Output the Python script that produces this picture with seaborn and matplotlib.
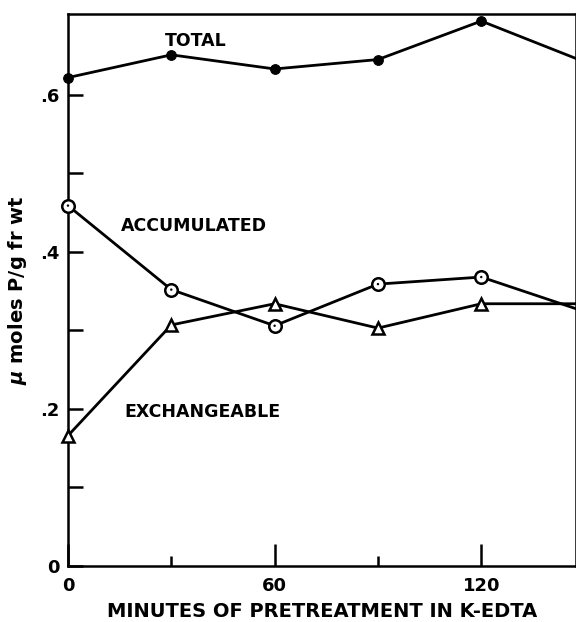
import numpy as np
import pandas as pd
import seaborn as sns
import matplotlib.pyplot as plt

# data
minutes = [0, 30, 60, 90, 120, 150]
total = [0.622, 0.651, 0.633, 0.645, 0.694, 0.642]
accumulated = [0.459, 0.352, 0.306, 0.359, 0.368, 0.324]
exchangeable = [0.166, 0.307, 0.334, 0.303, 0.334, 0.334]

xtick_major = [0, 60, 120]
xtick_minor = [30, 90]
ytick_major = [0, 0.2, 0.4, 0.6]
ytick_labels = ['0', '.2', '.4', '.6']
ytick_minor = [0.1, 0.3, 0.5]

sns.set_style('white')
plt.rcParams['font.family'] = ['DejaVu Sans']
plt.rcParams['font.weight'] = 'bold'
plt.rcParams['text.color'] = 'black'
plt.rcParams['axes.labelcolor'] = 'black'
plt.rcParams['xtick.color'] = 'black'
plt.rcParams['ytick.color'] = 'black'

fig = plt.figure(figsize=(5.76, 6.22), dpi=100)
ax = fig.add_axes([0.118, 0.090, 0.882, 0.8875])

lw = 2.0
# TOTAL - filled circles
sns.lineplot(x=minutes, y=total, ax=ax, color='black', lw=lw,
             marker='o', markersize=7, markerfacecolor='black',
             markeredgecolor='black', clip_on=False, zorder=5)
# ACCUMULATED - open circles with centre dot
sns.lineplot(x=minutes, y=accumulated, ax=ax, color='black', lw=lw,
             marker='o', markersize=9, markerfacecolor='white',
             markeredgecolor='black', markeredgewidth=1.8,
             clip_on=False, zorder=5)
sns.scatterplot(x=minutes, y=accumulated, ax=ax, color='black', s=3,
                edgecolor='none', clip_on=False, zorder=6)
# EXCHANGEABLE - open triangles
sns.lineplot(x=minutes, y=exchangeable, ax=ax, color='black', lw=lw,
             marker='^', markersize=9, markerfacecolor='white',
             markeredgecolor='black', markeredgewidth=1.8,
             clip_on=False, zorder=5)

ax.set_xlim(0, 147.5)
ax.set_ylim(0, 0.703)

ax.set_xticks(xtick_major)
ax.set_xticklabels([str(v) for v in xtick_major])
ax.set_xticks(xtick_minor, minor=True)
ax.set_yticks(ytick_major)
ax.set_yticklabels(ytick_labels)
ax.set_yticks(ytick_minor, minor=True)

ax.tick_params(axis='x', which='major', direction='in', length=16, width=1.8,
               pad=8, labelsize=13)
ax.tick_params(axis='x', which='minor', direction='in', length=7, width=1.8)
ax.tick_params(axis='y', which='both', direction='in', length=11, width=1.8,
               pad=6, labelsize=13)
ax.tick_params(bottom=True, left=True, which='both')

for s in ax.spines.values():
    s.set_linewidth(1.8)
    s.set_color('black')

ax.set_xlabel('MINUTES OF PRETREATMENT IN K-EDTA', fontsize=14,
              fontweight='bold', labelpad=5)
ax.set_ylabel('$\\mu$ moles P/g fr wt', fontsize=14, fontweight='bold',
              labelpad=8)

ax.text(28, 0.668, 'TOTAL', fontsize=12.5, fontweight='bold', va='center')
ax.text(15.5, 0.433, 'ACCUMULATED', fontsize=12.5, fontweight='bold', va='center')
ax.text(16.5, 0.196, 'EXCHANGEABLE', fontsize=12.5, fontweight='bold', va='center')

fig.savefig('out.png', dpi=100)
